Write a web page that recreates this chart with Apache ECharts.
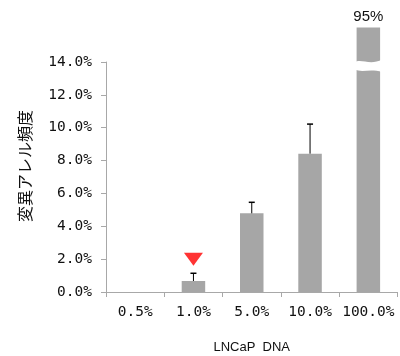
<!DOCTYPE html>
<html><head><meta charset="utf-8">
<script src="https://cdn.jsdelivr.net/npm/echarts@6/dist/echarts.min.js"></script>
<style>html,body{margin:0;padding:0;background:#fff}#c{width:400px;height:356px}</style>
</head><body><div id="c"></div>
<script>
const categories = ['0.5%', '1.0%', '5.0%', '10.0%', '100.0%'];
const barValues = [null, 0.67, 4.79, 8.42, 16.1];   // 100% bar drawn broken (true value 95%)
const errorTops = [null, 1.14, 5.46, 10.22, null];
const topLabels = ['', '', '', '', '95%'];
const markerValues = [null, 2.0, null, null, null];
const breakAt = 13.8;
const breakIndex = 4;
const yTicks = [0, 2, 4, 6, 8, 10, 12, 14];

const chart = echarts.init(document.getElementById('c'), null, {renderer: 'canvas'});
const monoFont = '"DejaVu Sans Mono", monospace';
const sansFont = '"Liberation Sans", Arial, sans-serif';

const option = {
  animation: false,
  grid: {left: 106, right: 2.5, top: 62, bottom: 64, containLabel: false, outerBoundsMode: 'none'},
  xAxis: {
    type: 'category',
    data: categories,
    name: 'LNCaP  DNA',
    nameLocation: 'middle',
    nameGap: 49,
    nameTextStyle: {fontFamily: sansFont, fontSize: 13, color: '#111'},
    axisLine: {lineStyle: {color: '#a8a8a8', width: 1}},
    axisTick: {show: true, length: 5, lineStyle: {color: '#a8a8a8'}, alignWithLabel: false},
    axisLabel: {interval: 0, fontFamily: monoFont, fontSize: 14.5, color: '#111', margin: 13}
  },
  yAxis: {
    type: 'value',
    min: yTicks[0], max: yTicks[yTicks.length - 1], interval: 2,
    name: '変異アレル頻度',
    nameLocation: 'middle',
    nameRotate: 90,
    nameGap: 73,
    nameTextStyle: {fontFamily: '"Noto Sans CJK JP", sans-serif', fontSize: 16, color: '#111', padding: [0, 0, 0, 22]},
    splitLine: {show: false},
    axisLine: {show: true, lineStyle: {color: '#a8a8a8', width: 1}},
    axisTick: {show: true, length: 5, lineStyle: {color: '#a8a8a8'}},
    axisLabel: {fontFamily: monoFont, fontSize: 14.5, color: '#111', margin: 14,
      formatter: v => v.toFixed(1) + '%'}
  },
  series: [
    {
      type: 'bar',
      clip: false,
      barWidth: 23.5,
      itemStyle: {color: '#a6a6a6'},
      data: barValues.map((v, i) => ({
        value: v,
        label: {show: topLabels[i] !== '', formatter: topLabels[i], position: 'top', distance: 3,
          fontFamily: sansFont, fontSize: 15, color: '#111'}
      })),
      z: 2
    },
    {
      type: 'custom',
      clip: false,
      z: 3,
      data: barValues.map((v, i) => [i, v, errorTops[i]]).filter(d => d[2] != null),
      renderItem: function (params, api) {
        const i = api.value(0);
        const p0 = api.coord([i, api.value(1)]);
        const p1 = api.coord([i, api.value(2)]);
        const hw = 3;
        return {
          type: 'group',
          children: [
            {type: 'line', shape: {x1: p0[0], y1: p0[1], x2: p1[0], y2: p1[1]}, style: {stroke: '#000', lineWidth: 1}},
            {type: 'line', shape: {x1: p1[0] - hw, y1: p1[1], x2: p1[0] + hw, y2: p1[1]}, style: {stroke: '#000', lineWidth: 1.5}}
          ]
        };
      }
    },
    {
      type: 'custom',
      clip: false,
      z: 4,
      data: [[breakIndex, breakAt]],
      renderItem: function (params, api) {
        const c = api.coord([api.value(0), api.value(1)]);
        const w = api.size([1, 0])[0] * 0.45;
        const l = c[0] - w / 2 - 1, r = c[0] + w / 2 + 1, y = c[1];
        const path = 'M' + l + ' ' + (y - 3) +
          ' C' + (l + w * 0.3) + ' ' + (y - 7) + ' ' + (l + w * 0.6) + ' ' + (y + 1) + ' ' + r + ' ' + (y - 6) +
          ' L' + r + ' ' + (y + 7) +
          ' C' + (l + w * 0.6) + ' ' + (y + 3) + ' ' + (l + w * 0.3) + ' ' + (y + 8) + ' ' + l + ' ' + (y + 4) + ' Z';
        return {type: 'path', shape: {pathData: path}, style: {fill: '#fff'}};
      }
    },
    {
      type: 'scatter',
      z: 5,
      symbol: 'triangle',
      symbolRotate: 180,
      symbolSize: [19, 13],
      itemStyle: {color: '#ff0000'},
      data: markerValues.map((v, i) => v == null ? null : [i, v]).filter(d => d)
    }
  ]
};
chart.setOption(option);
</script>
</body></html>
